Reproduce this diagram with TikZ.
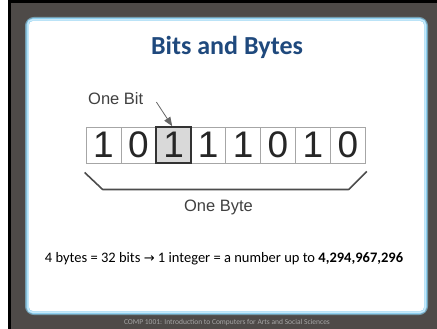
\documentclass[tikz,border=0pt]{standalone}
\usepackage{fontspec}
\setmainfont{Carlito}
\newfontfamily\arialfont{Liberation Sans}
\newfontfamily\symfont{DejaVu Sans}
\usetikzlibrary{arrows.meta,calc}

\definecolor{slidegray}{HTML}{4E4A48}
\definecolor{titleblue}{HTML}{1F497D}
\definecolor{glowblue}{HTML}{8ED0F0}
\definecolor{glowpale}{HTML}{C6E9FA}
\definecolor{bitline}{HTML}{A6A6A6}
\definecolor{bitfill}{HTML}{D9D9D9}
\definecolor{footgray}{HTML}{A6A6A6}

\begin{document}
\begin{tikzpicture}[
    x=1pt,y=-1pt,
    bit/.style={draw=bitline,line width=0.9pt,minimum width=34.9pt,minimum height=36pt,
        inner sep=0pt,font=\arialfont\fontsize{37}{37}\selectfont,text=black!85},
    picked/.style={bit,fill=bitfill,draw=black!80,line width=1.6pt},
    label/.style={inner sep=0pt,font=\arialfont\fontsize{16.5}{18}\selectfont,text=black!75},
    ->/.style={-{Triangle[length=9pt,width=7pt]}},
]
\useasboundingbox (0,0) rectangle (437,329);

% slide frame
\fill[white] (0,0) rectangle (437,329);
\fill[black] (8,0) rectangle (437,329);
\fill[slidegray] (10.5,3) rectangle (437,329);

% white panel with glow
\draw[glowblue!60!slidegray,line width=6pt,rounded corners=6pt] (28,20) rectangle (425,312);
\draw[glowblue,line width=3.5pt,rounded corners=5pt] (28,20) rectangle (425,312);
\draw[glowpale,line width=1.5pt,rounded corners=4pt] (28,20) rectangle (425,312);
\fill[white,rounded corners=4pt] (29,21) rectangle (424,311);

% title
\node[anchor=base,inner sep=0pt,text=titleblue,font=\bfseries\fontsize{26}{30}\selectfont]
    (title) at (227,55) {Bits and Bytes};

% bit row
\node[bit] (b1) at (103.5,145) {1};
\node[bit] (b2) at (138.4,145) {0};
\node[bit] (b4) at (208.2,145) {1};
\node[bit] (b5) at (243.1,145) {1};
\node[bit] (b6) at (278.0,145) {0};
\node[bit] (b7) at (312.9,145) {1};
\node[bit] (b8) at (347.8,145) {0};
\node[picked] (b3) at (173.7,145) {1};

% labels
\node[label,anchor=base west] (onebit) at (88,105) {One Bit};
\node[label,anchor=base] (onebyte) at (218.5,211) {One Byte};

% pointer to the picked bit
\coordinate (bitstart) at ($(onebit.east)+(13,3)$);
\draw[->,black!60,line width=0.8pt] (bitstart) -- ($(b3.north)+(-1.5,0)$);

% brace under the byte
\coordinate (braceL) at ($(b1.south west)+(-1,9)$);
\coordinate (braceML) at ($(b1.south west)+(17,26)$);
\coordinate (braceMR) at ($(b8.south east)+(-17,26)$);
\coordinate (braceR) at ($(b8.south east)+(1,8)$);
\draw[black!70,line width=1.6pt,line join=round] (braceL) -- (braceML) -- (braceMR) -- (braceR);

% summary line
\node[anchor=base,inner sep=0pt,font=\fontsize{14.5}{16}\selectfont] (summary) at (224,262)
    {4 bytes = 32 bits {\symfont\fontsize{13}{14}\selectfont→} 1 integer = a number up to \textbf{4,294,967,296}};

% footer
\node[anchor=base,inner sep=0pt,text=footgray,font=\fontsize{7.5}{9}\selectfont] (footer) at (227,324)
    {COMP 1001: Introduction to Computers for Arts and Social Sciences};
\end{tikzpicture}
\end{document}
